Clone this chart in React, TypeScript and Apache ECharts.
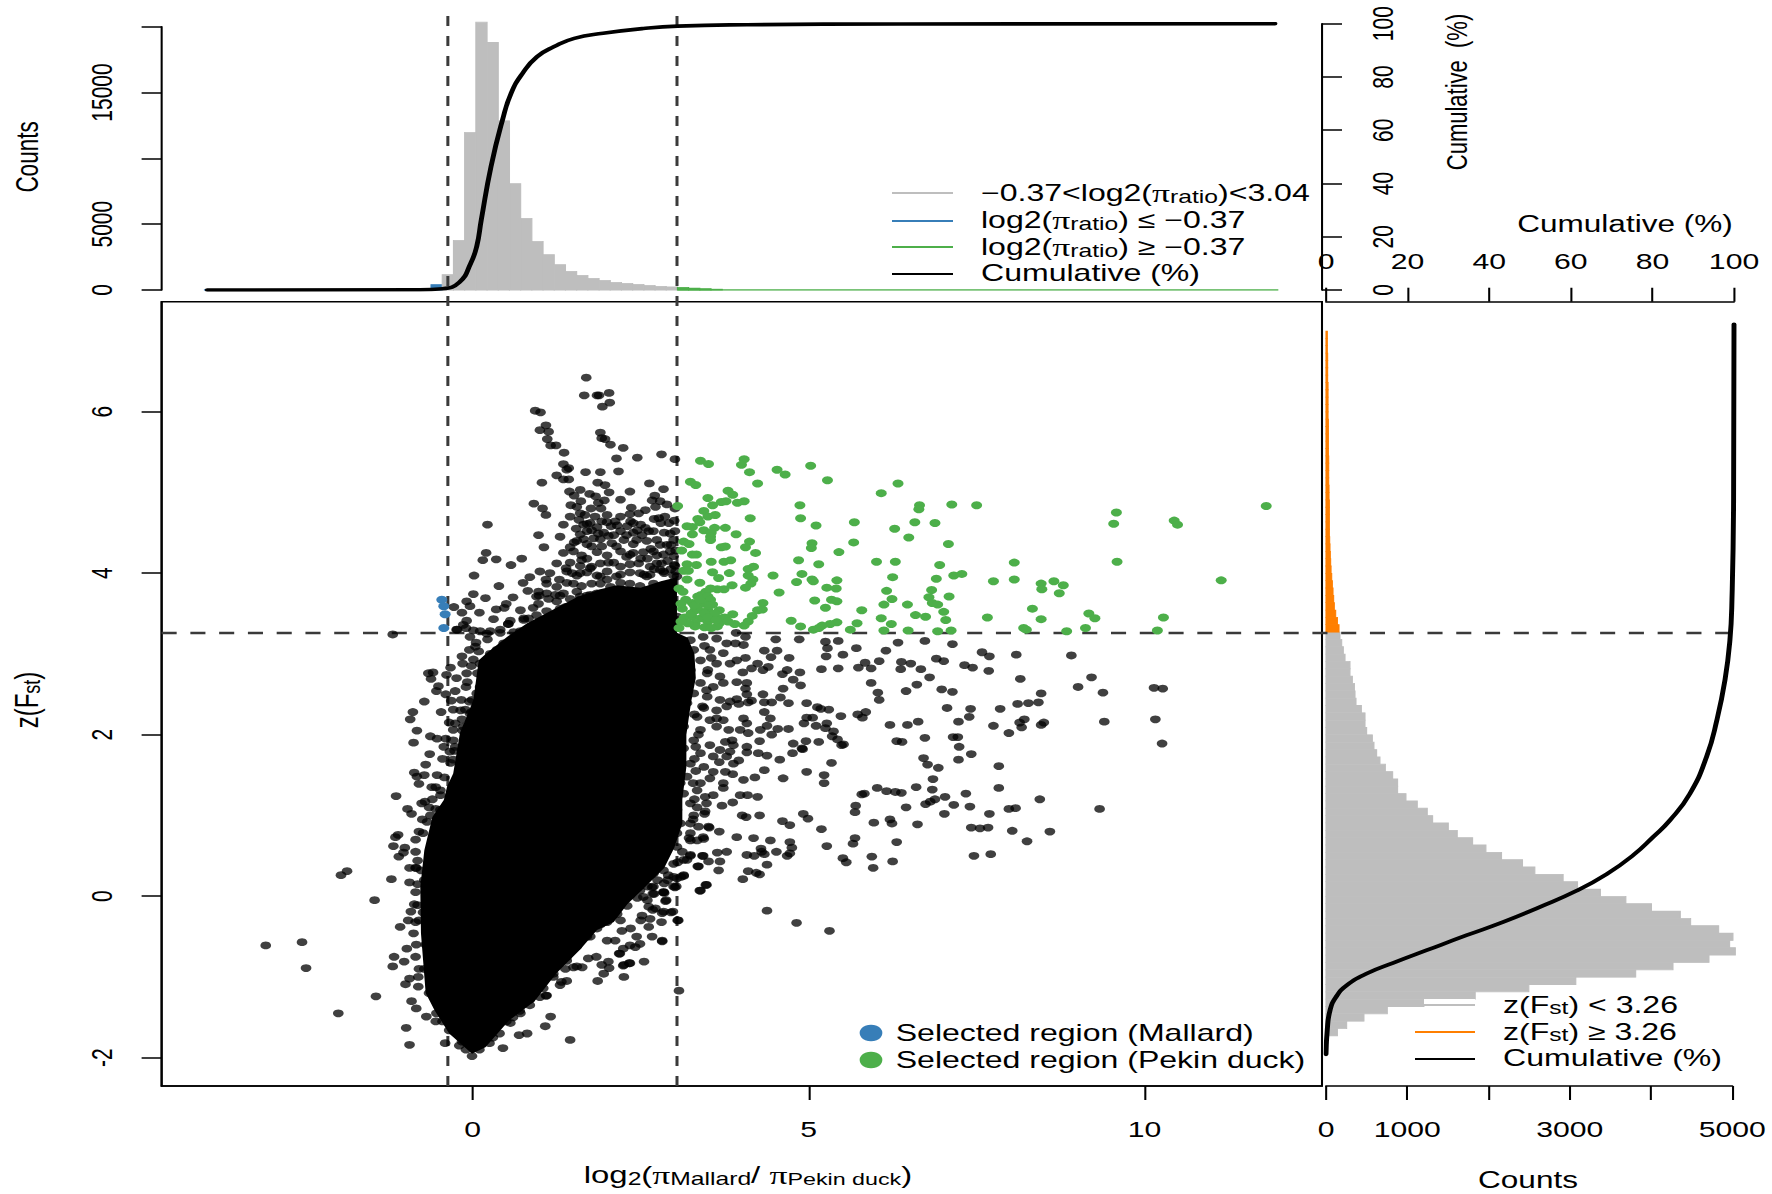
import React, { useEffect, useRef } from "react";
import * as echarts from "echarts";

// The reference is a horizontally stretched figure: the whole chart is laid out in a narrower box and stretched.
const S = 1.37;
const X = (v: number) => v / S;
const FONT = '"Liberation Sans", Arimo, sans-serif';
const SERIF = '"Liberation Serif", serif';

// ---------- axis ticks ----------
const mainXTicks = [0, 5, 10];
const mainYTicks = [-2, 0, 2, 4, 6];
const topCountTicks = [0, 5000, 10000, 15000, 20000];
const topCountLabels = [0, 5000, 15000];
const cumulativeTicks = [0, 20, 40, 60, 80, 100];
const rightCountTicks = [0, 1000, 2000, 3000, 4000, 5000];
const rightCountLabels = [0, 1000, 3000, 5000];

// ---------- thresholds ----------
const piLow = -0.37;
const piHigh = 3.04;
const zCut = 3.26;

// ---------- top histogram (log2 ratio), bin width 1/6 ----------
const topBinWidth = 0.1667;
const topBlueStart = -0.787;
const topBlueCounts = [100, 400];
const topGrayStart = -0.453;
const topGrayCounts = [1164, 3770, 11970, 20340, 18800, 12850, 8070, 5440, 3690, 2680, 1920, 1420, 1110, 885, 730, 580, 505, 430, 350, 280, 230];
const topGreenStart = 3.047;
const topGreenCounts = [200, 150, 100, 60];
const topBlueBase = [[-4, 0], [-0.8, 0]];
const topGreenBase = [[3.05, 0], [11.99, 0]];

// ---------- right histogram (z(Fst)), bin height 1/11 ----------
const rightBinHeight = 0.0909;
const rightStartZ = 3.27;
const rightGrayCounts = [172, 193, 213, 234, 295, 295, 324, 349, 357, 369, 435, 480, 480, 500, 570, 590, 623, 664, 730, 820, 881, 881, 984, 1123, 1246, 1312, 1505, 1615, 1804, 1968, 2160, 2418, 2570, 2918, 3095, 3377, 3690, 4005, 4360, 4487, 4832, 5008, 4967, 5037, 4713, 4270, 3811, 3074, 2496, 1836, 1205, 754, 467, 254, 140, 30];
const rightOrangeCounts = [160, 140, 119, 102, 94, 86, 78, 70, 62, 57, 53, 49, 45, 41, 41, 41, 41, 41, 37, 37, 33, 33, 33, 33, 29, 29, 29, 29, 29, 25, 25, 25, 25, 25, 20, 20, 20, 20, 16, 16, 16];

// ---------- cumulative curves ----------
const topCumulative = [[-3.95, 0], [-0.8, 0.1], [-0.45, 0.5], [-0.2, 2.9], [-0.03, 10], [0.06, 16.4], [0.128, 26.4], [0.273, 46.4], [0.444, 63.9], [0.572, 73.9], [0.743, 81.4], [0.957, 87.6], [1.213, 91.4], [1.512, 94.5], [1.94, 96.4], [2.54, 98.2], [3.05, 99.1], [4.08, 99.6], [6.37, 99.9], [11.94, 100]];
const rightCumulative = [[0, -1.958], [0.3, -1.66], [1, -1.41], [2.45, -1.248], [5.1, -1.103], [10, -0.958], [16.5, -0.826], [24.7, -0.669], [34.5, -0.483], [43.5, -0.318], [52.5, -0.132], [61.4, 0.066], [68.8, 0.273], [75.3, 0.508], [80.2, 0.735], [84.3, 0.94], [89.2, 1.27], [93.3, 1.73], [95.8, 2.18], [97.8, 2.68], [99, 3.17], [99.5, 3.67], [99.9, 4.91], [100, 7.08]];

// ---------- scatter: outline of the solid black mass ----------
const massOutline = [[-0.01,-1.95],[-0.35,-1.7],[-0.57,-1.41],[-0.7,-1.2],[-0.77,-0.46],[-0.78,0.11],[-0.72,0.57],[-0.6,0.98],[-0.43,1.19],[-0.38,1.36],[-0.29,1.52],[-0.19,2.02],[0.01,2.43],[0.09,2.92],[0.21,3.01],[0.51,3.21],[0.81,3.38],[1.2,3.55],[1.55,3.7],[1.9,3.8],[2.14,3.85],[2.5,3.82],[2.8,3.9],[3.04,3.95],[3.04,3.26],[3.2,3.2],[3.3,3],[3.32,2.7],[3.25,2.4],[3.18,2],[3.18,1.6],[3.12,1.2],[3.12,0.9],[3,0.6],[2.85,0.35],[2.55,0.1],[2.3,-0.1],[2.1,-0.32],[1.85,-0.42],[1.6,-0.66],[1.25,-0.95],[0.92,-1.3],[0.54,-1.54],[0.19,-1.87]];

// ---------- scatter: individually read points ----------
const selectedMallard = [[-0.46, 3.67], [-0.43, 3.59], [-0.41, 3.49], [-0.43, 3.32]];
const selectedPekin = [[3.39,5.39],[3.51,5.35],[4.04,5.41],[4,5.34],[4.12,5.25],[4.53,5.28],[4.65,5.22],[5.03,5.33],[5.28,5.15],[4.24,5.11],[3.24,5.13],[3.32,5.09],[6.33,5.11],[6.08,4.99],[3.8,5.02],[3.87,4.97],[3.5,4.93],[3.77,4.89],[3.7,4.88],[3.57,4.84],[4.04,4.89],[3.94,4.87],[3.05,4.83],[4.87,4.84],[6.65,4.84],[6.64,4.79],[7.13,4.85],[7.5,4.84],[9.58,4.75],[11.81,4.83],[9.54,4.61],[10.44,4.65],[10.49,4.6],[3.44,4.77],[3.5,4.7],[3.61,4.72],[3.35,4.67],[3.38,4.63],[4.13,4.68],[4.88,4.68],[5.11,4.59],[5.68,4.63],[6.58,4.63],[6.88,4.62],[3.19,4.58],[3.27,4.57],[3.44,4.53],[3.6,4.56],[3.76,4.56],[3.55,4.5],[3.27,4.48],[3.92,4.48],[6.28,4.55],[6.49,4.44],[3.54,4.45],[3.54,4.41],[4.12,4.39],[3.14,4.39],[3.22,4.36],[5.05,4.37],[5.04,4.31],[5.67,4.38],[7.08,4.36],[3.7,4.32],[3.76,4.33],[4.06,4.32],[3.11,4.28],[3.27,4.23],[3.33,4.23],[4.21,4.25],[5.45,4.26],[4.85,4.16],[3.55,4.14],[3.74,4.14],[3.84,4.16],[6.01,4.14],[6.29,4.14],[8.06,4.13],[9.59,4.14],[5.15,4.11],[6.95,4.1],[3.19,4.11],[3.14,4.03],[3.21,4.03],[3.33,4.1],[4.1,4.05],[4.18,4.08],[3.57,4.01],[3.82,4],[3.66,3.94],[4.1,3.97],[4.47,3.97],[4.9,3.99],[6.25,3.95],[7.16,3.97],[7.28,3.99],[4.17,3.92],[4.14,3.87],[3.19,3.92],[5.05,3.92],[5.07,3.9],[4.82,3.89],[5.42,3.91],[6.9,3.93],[7.75,3.9],[8.06,3.92],[8.46,3.87],[8.65,3.9],[8.79,3.85],[11.14,3.91],[3.38,3.88],[3.86,3.85],[4.06,3.82],[5.27,3.82],[5.41,3.81],[6.83,3.79],[8.47,3.8],[8.73,3.75],[3.74,3.8],[3.64,3.8],[3.54,3.81],[3.07,3.81],[3.13,3.77],[4.56,3.76],[6.16,3.78],[6.79,3.7],[7.09,3.71],[3.47,3.77],[3.4,3.73],[3.35,3.71],[3.5,3.71],[3.17,3.67],[3.54,3.67],[5.09,3.66],[5.34,3.67],[5.42,3.65],[6.24,3.68],[6.84,3.63],[6.92,3.61],[6.12,3.61],[6.47,3.61],[4.32,3.63],[3.27,3.63],[3.44,3.62],[3.57,3.61],[5.25,3.57],[8.33,3.56],[3.12,3.56],[3.31,3.54],[3.5,3.54],[3.67,3.54],[4.24,3.54],[4.31,3.55],[5.79,3.54],[7.01,3.52],[6.59,3.48],[9.17,3.5],[9.26,3.44],[10.28,3.45],[3.87,3.49],[4.16,3.47],[6.74,3.46],[7.66,3.45],[8.46,3.43],[6.08,3.44],[7.04,3.42],[3.27,3.46],[3.4,3.44],[3.57,3.46],[3.7,3.44],[4.1,3.4],[4.74,3.41],[5.42,3.39],[5.32,3.37],[5.72,3.38],[6.23,3.37],[5.2,3.35],[4.88,3.34],[3.31,3.38],[3.5,3.4],[3.67,3.38],[3.9,3.37],[4.04,3.35],[8.2,3.32],[9.12,3.32],[5.07,3.3],[5.15,3.32],[5.62,3.3],[6.12,3.29],[6.48,3.29],[6.92,3.28],[7.12,3.29],[8.84,3.28],[10.19,3.29],[3.07,3.32],[3.31,3.34],[3.64,3.34],[8.24,3.3],[3.15,3.45],[3.25,3.5],[3.35,3.55],[3.45,3.5],[3.6,3.5],[3.2,3.38],[3.5,3.45],[3.75,3.45],[3.1,3.4],[3.45,3.33],[3.55,3.32],[3.8,3.4],[3.3,3.6],[3.52,3.6],[3.38,3.67],[3.62,3.42],[3.1,3.62]];

const blackFar = [[5.25,3.15],[5.44,3.16],[5.28,3.07],[5.26,2.97],[5.51,2.99],[5.71,3.07],[6.33,3.14],[6.15,3.04],[6.73,3.16],[7.14,3.12],[7.58,3.02],[7.69,2.97],[8.09,2.99],[8.91,2.98],[5.19,2.81],[5.44,2.82],[5.74,2.83],[5.84,2.89],[5.93,2.82],[6.05,2.91],[6.38,2.9],[6.52,2.88],[6.37,2.81],[6.67,2.81],[6.9,2.94],[7.01,2.91],[7.32,2.86],[7.44,2.83],[7.68,2.79],[8.15,2.69],[9.21,2.71],[9.01,2.59],[9.38,2.52],[10.14,2.58],[10.27,2.57],[5.93,2.64],[6.8,2.71],[6.61,2.62],[6.45,2.54],[6.98,2.56],[7.14,2.53],[6.03,2.52],[6.05,2.43],[8.46,2.51],[8.11,2.38],[8.27,2.39],[8.42,2.4],[4.97,2.39],[5.13,2.34],[5.18,2.32],[5.3,2.31],[7.06,2.33],[7.41,2.32],[7.85,2.32],[5.48,2.23],[5.73,2.25],[5.85,2.28],[5.8,2.21],[7.39,2.22],[4.97,2.21],[5.06,2.21],[8.21,2.19],[8.14,2.15],[8.5,2.15],[8.46,2.12],[9.4,2.16],[10.16,2.19],[7.23,2.16],[6.63,2.16],[6.47,2.12],[6.21,2.12],[5.11,2.11],[4.93,2.14],[7.75,2.11],[8.17,2.09],[7.98,2.02],[5.27,2.14],[5.25,2.08],[5.37,2.04],[5.35,1.98],[5.43,1.94],[5.49,1.87],[5.52,1.88],[4.96,1.92],[5.15,1.91],[6.73,1.96],[6.31,1.92],[6.39,1.91],[7.15,1.97],[7.22,1.97],[10.26,1.89],[7.24,1.85],[4.91,1.82],[7.42,1.76],[6.71,1.71],[7.23,1.69],[5.34,1.65],[6.77,1.63],[6.93,1.59],[7.83,1.61],[4.97,1.54],[5.23,1.5],[5.23,1.4],[6.85,1.45],[6.02,1.34],[6.16,1.3],[6.29,1.29],[6.38,1.28],[6.6,1.35],[6.84,1.32],[7.83,1.34],[5.79,1.26],[5.83,1.27],[7.34,1.27],[7.03,1.23],[6.88,1.2],[6.81,1.17],[6.74,1.14],[7.16,1.13],[7.4,1.11],[8.44,1.2],[5.7,1.12],[5.69,1.04],[6.45,1.1],[7.98,1.08],[8.08,1.09],[9.33,1.08],[4.92,1.02],[4.99,0.96],[7.02,1.02],[7.69,1.02],[6.21,0.95],[6.24,0.9],[5.97,0.91],[6.62,0.89],[5.19,0.83],[7.42,0.85],[7.55,0.84],[7.67,0.85],[8.03,0.81],[8.59,0.8],[5.69,0.72],[5.66,0.65],[5.27,0.62],[6.31,0.67],[8.25,0.68],[5.51,0.47],[5.56,0.42],[5.94,0.49],[6.25,0.43],[5.96,0.35],[7.46,0.5],[7.71,0.52],[5.31,-0.43]];

const blackMid = [[3.92,3.26],[4.06,3.21],[4.51,3.18],[4.86,3.18],[3.91,3.13],[4.03,3.11],[4.34,3.04],[4.53,3.04],[4.44,2.96],[4.71,2.95],[4.06,2.95],[4.24,2.88],[4.15,2.82],[4.4,2.84],[4.32,2.8],[4.02,2.77],[4.68,2.8],[4.61,2.75],[4.77,2.68],[4.87,2.77],[3.93,2.65],[4.08,2.64],[4.06,2.57],[4.88,2.61],[4.62,2.57],[4.08,2.5],[4.32,2.5],[4.58,2.46],[3.93,2.44],[3.83,2.41],[4.15,2.42],[4.1,2.4],[4.34,2.4],[4.45,2.4],[4.7,2.39],[3.78,2.35],[3.96,2.38],[4.34,2.28],[4.43,2.2],[4.03,2.2],[4.08,2.14],[3.63,2.2],[3.73,2.18],[3.81,2.06],[3.98,2.06],[4.1,2.02],[4.28,2.06],[4.38,2.11],[4.54,2.07],[4.7,2.07],[4.45,2],[4.77,1.89],[4.27,1.92],[4.08,1.85],[3.86,1.93],[3.76,1.91],[3.88,1.87],[3.83,1.79],[4.08,1.78],[4.25,1.77],[4.38,1.74],[4.57,1.69],[4.76,1.77],[4.9,1.83],[3.96,1.68],[3.88,1.64],[3.67,1.66],[4.34,1.56],[4.62,1.46],[4.2,1.47],[4.03,1.44],[3.87,1.51],[3.76,1.54],[3.58,1.54],[3.53,1.46],[3.73,1.4],[3.73,1.34],[4.09,1.25],[4.24,1.23],[3.98,1.25],[3.58,1.25],[3.87,1.16],[3.71,1.12],[4.27,1],[4.01,1],[4.07,0.98],[4.61,0.93],[4.72,0.88],[3.67,0.8],[3.52,0.85],[3.44,0.71],[3.93,0.73],[4.18,0.72],[4.43,0.69],[4.29,0.59],[4.3,0.55],[4.72,0.67],[4.75,0.6],[4.72,0.53],[4.68,0.5],[4.52,0.55],[4.34,0.52],[4.19,0.5],[4.08,0.51],[3.78,0.55],[3.64,0.54],[3.43,0.5],[3.24,0.5],[3.68,0.43],[3.51,0.43],[3.36,0.37],[3.66,0.32],[4.38,0.39],[4.1,0.31],[4.22,0.29],[4.27,0.27],[4.02,0.21],[3.48,0.14],[3.38,0.07],[3.14,0.25],[3.04,0.22],[2.99,0.12],[2.69,0.12],[2.84,0.05]];

const blackRightFringe = [[3.24,3.17],[3.43,3.21],[3.63,3.19],[3.78,3.13],[3.29,3.05],[3.53,3.05],[3.73,3.01],[3.93,2.92],[3.19,2.97],[3.39,2.92],[3.63,2.88],[3.83,2.88],[3.24,2.8],[3.49,2.76],[3.68,2.72],[3.14,2.68],[3.39,2.64],[3.58,2.59],[3.73,2.64],[3.04,2.55],[3.29,2.51],[3.49,2.47],[3.68,2.43],[3.19,2.39],[3.44,2.33],[3.63,2.3],[3.09,2.26],[3.34,2.22],[3.53,2.18],[3.14,2.1],[3.39,2.06],[3.63,2.1],[3.04,1.97],[3.29,1.93],[3.53,1.87],[3.68,1.81],[3.14,1.83],[3.39,1.77],[3.58,1.73],[3.78,1.73],[3.24,1.64],[3.44,1.6],[3.04,1.56],[3.19,1.48],[3.39,1.4],[3.09,1.4],[3.34,1.31],[3.14,1.27],[3.46,1.23],[3.24,1.15],[3.46,1.05],[3.04,1.07],[3.29,1],[3.09,0.9],[3.36,0.86],[3.04,0.78],[3.24,0.69],[3.04,0.61],[3.14,0.45],[2.99,0.4],[2.84,0.32],[2.69,0.28],[2.49,0.2],[2.39,0.16],[2.49,0.07],[2.34,0.01],[2.91,0.26],[3.1,0.24],[2.61,0.3],[3.45,3.1],[3.55,2.95],[3.5,2.8],[3.48,2.55],[3.42,2.35],[3.3,2.25],[3.36,2],[3.32,1.85],[3.3,1.7],[3.32,1.55],[3.28,1.4],[3.3,1.2],[3.34,1.1],[3.28,0.95],[3.22,0.72],[3.12,0.55],[3.05,0.42],[2.9,0.2]];

const blackLowerRight = [[3.14,0.26],[3.01,0.11],[3.05,-0.3],[3.39,0.07],[3.47,0.14],[3.35,0.37],[3.42,0.5],[3.24,0.51],[2.88,-0.05],[2.84,-0.19],[2.98,-0.19],[2.82,-0.55],[2.55,-0.81],[2.33,-0.83],[2.25,-0.85],[2.25,-1],[1.86,-1.05],[1.95,-0.96],[2.03,-0.89],[2.02,-0.81],[1.92,-0.85],[1.63,-0.88],[1.5,-0.88],[1.38,-0.9],[1.4,-1.05],[1.3,-1.1],[1.1,-1.23],[1.72,-0.77],[1.84,-0.75],[2.12,-0.55],[2.18,-0.71],[2.24,-0.65],[2.34,-0.61],[2.49,-0.59],[2.67,-0.5],[2.22,-0.43],[2.44,-0.5],[2.62,-0.38],[2.81,-0.32],[2.64,-0.28],[2.52,-0.24],[2.72,-0.15],[2.62,-0.13],[2.7,0.03],[2.67,0.11],[2.85,0.04],[2.85,0.16],[2.54,-0.01],[2.59,0.31],[2.59,0.24],[2.99,0.24],[3.24,0.9],[3.43,0.73],[3.34,0.69],[3.24,0.78],[3.19,0.45],[3.48,1.15],[3.45,1.02],[3.51,0.86],[0.3,-1.75],[0.5,-1.55],[0.7,-1.42],[0.85,-1.28],[1.05,-1.14],[1.2,-0.96],[1.4,-0.75],[1.55,-0.62],[1.7,-0.5],[1.85,-0.4],[2,-0.32],[2.15,-0.22],[2.3,-0.12],[2.45,-0.02],[2.6,0.12],[2.75,0.2]];

const blackTop = [[1.69,6.42],[1.66,6.2],[1.85,6.2],[1.88,6.2],[2.03,6.23],[2.04,6.11],[1.93,6.06],[0.93,6.01],[1.01,5.99],[1.09,5.83],[1.13,5.75],[1,5.77],[1.11,5.66],[1.9,5.74],[1.92,5.67],[1.97,5.66],[2.05,5.59],[2.24,5.55],[1.16,5.58],[1.24,5.58],[1.36,5.49],[2.14,5.42],[2.45,5.43],[2.81,5.47],[3.01,5.41],[1.35,5.35],[1.43,5.3],[1.4,5.28],[1.68,5.25],[1.9,5.25],[2.17,5.26],[1.25,5.21],[1.35,5.16],[1.43,5.16],[1.03,5.12],[1.86,5.12],[1.97,5.09],[2.63,5.11],[1.44,5.01],[1.6,5.03],[1.51,4.96],[1.74,4.98],[1.83,4.95],[2.03,5],[2.34,5.01],[2.84,5.04],[0.91,4.86],[1.04,4.8],[1.09,4.72],[1.61,4.89],[1.46,4.84],[1.55,4.82],[1.76,4.8],[1.87,4.87],[1.96,4.9],[2.2,4.91],[2.71,4.96],[2.67,4.9],[2.79,4.89],[2.72,4.82],[2.89,4.85],[3.01,4.8],[2.36,4.81],[1.91,4.8],[2.57,4.78],[2.47,4.74],[2.34,4.73],[1.6,4.74],[1.67,4.72],[2.77,4.68],[2.86,4.7],[0.22,4.6],[1.75,4.62],[1.92,4.64],[2.12,4.64],[2.06,4.58],[2.39,4.62],[1.54,4.55],[1.7,4.52],[1.87,4.49],[1.95,4.5],[2.57,4.56],[2.62,4.52],[3.01,4.52],[0.98,4.47],[1.65,4.42],[1.8,4.43],[2.1,4.47],[2.29,4.47],[2.44,4.41],[2.74,4.41],[2.94,4.49],[1.51,4.38],[1.06,4.32],[1.45,4.32],[1.77,4.33],[1.92,4.33],[2.14,4.33],[2.89,4.35],[0.2,4.25],[0.15,4.16],[0.35,4.17],[0.57,4.1],[0.73,4.18],[1.7,4.18],[1.62,4.16],[2.02,4.13],[2.1,4.13],[2.5,4.18],[2.69,4.27],[2.39,4.25],[2.84,4.23],[2.99,4.21],[1.39,4.06],[1.77,4.08],[1.75,4.06],[2.34,4.11],[0.02,3.97],[1.48,4],[1.6,4],[1.9,3.96],[2.14,3.96],[2.49,4],[2.79,4.04],[1.09,3.92],[1.29,3.92],[1.5,3.87],[1.77,3.87],[2,3.92],[0.39,3.84],[0.82,3.78],[0.98,3.77],[1.1,3.75],[1.23,3.73],[1.35,3.75],[1.55,3.77],[1.9,3.75],[2.34,3.87],[2.59,3.79],[0.01,3.74],[0.19,3.69],[0.95,3.71],[1.25,3.65],[1.6,3.71],[2.05,3.69],[-0.09,3.65],[-0.28,3.58],[-0.16,3.51],[-0.04,3.59],[0.98,3.62],[0.47,3.57],[0.71,3.54],[0.1,3.51],[1.38,3.58],[1.75,3.61],[2.1,3.57],[-0.09,3.41],[-0.14,3.36],[-0.23,3.3],[0.53,3.37],[0.76,3.44],[0.95,3.48],[1.18,3.47],[1.4,3.46],[2.69,3.87],[2.89,3.79],[2.79,3.71],[2.99,3.63],[2.74,3.54],[2.89,3.46],[3.04,3.46],[2.2,3.79],[2.14,3.67],[2.39,3.62],[1.9,3.59],[2.59,3.96],[2.74,4.12],[2.29,4.2],[3.04,3.96],[2.96,3.87]];

const blackUpperDense = [[1.7,4.61],[1.85,4.57],[2,4.63],[2.15,4.59],[2.35,4.64],[2.5,4.6],[1.6,4.48],[1.77,4.53],[2.02,4.46],[2.2,4.52],[2.39,4.5],[2.52,4.47],[2.69,4.52],[1.55,4.4],[1.7,4.36],[1.9,4.42],[2.07,4.37],[2.25,4.41],[2.39,4.36],[2.59,4.4],[2.79,4.35],[2.99,4.41],[1.5,4.27],[1.62,4.22],[1.85,4.26],[2,4.22],[2.2,4.27],[2.34,4.23],[2.54,4.26],[2.74,4.22],[2.94,4.27],[1.45,4.13],[1.6,4.09],[1.9,4.12],[2.2,4.08],[2.47,4.12],[2.64,4.08],[2.81,4.12],[3.01,4.09],[1.4,4.02],[1.55,3.97],[1.7,4.01],[1.85,3.97],[2,4.02],[2.2,3.98],[2.34,4.01],[2.64,3.98],[2.84,4.02],[2.99,3.97],[1.1,3.87],[1.25,3.83],[1.4,3.88],[1.62,3.84],[1.9,3.87],[2.05,3.83],[2.2,3.88],[2.49,3.84],[0.99,3.72],[1.13,3.68],[1.3,3.72],[1.45,3.68],[1.7,3.72],[1.85,3.68],[0.9,3.57],[1.1,3.53],[1.3,3.56],[0.31,3.43],[0.56,3.41],[0.83,3.44],[0.01,3.29],[0.21,3.25],[0.41,3.3],[0.61,3.27],[0.8,3.29],[0.05,3.14],[0.22,3.18],[-0.05,3.05],[-0.02,2.85],[-0.08,2.65],[-0.18,2.3],[-0.35,2.15],[-0.4,1.95],[-0.45,1.7],[-0.55,1.35],[-0.6,1.2],[-0.65,1.1],[-0.75,0.95],[-0.8,0.8],[-0.85,0.35],[-0.82,0.15],[1.58,4.66],[1.65,4.6],[1.82,4.7],[2,4.72],[2.2,4.7],[2.3,4.58],[2.45,4.53],[2.8,4.62],[2.92,4.62],[2.7,4.67],[3,4.65],[1.45,4.7],[1.35,4.6],[1.3,4.45],[1.35,4.25],[1.25,4.12],[1.15,4],[1,4.02],[0.85,3.95],[0.75,3.88],[0.6,3.7],[0.5,3.62],[0.35,3.55],[2.85,4.5],[2.95,4.35],[2.65,4.3],[3.02,4.28],[2.9,4.15],[3,4.1],[2.6,4.18],[2.55,3.98],[2.7,4.05],[2.85,4],[2.95,4.05],[3.02,4.02]];

const blackLeftUpper = [[-1.19,3.24],[-0.04,3.21],[0.11,3.28],[0.26,3.28],[0.41,3.26],[-0.24,3.3],[-0.1,3.32],[0.53,3.37],[0.76,3.42],[0.04,3.09],[0.09,3.03],[-0.16,2.97],[0.01,2.93],[-0.15,2.88],[0.11,2.88],[-0.33,2.83],[-0.66,2.76],[-0.59,2.77],[-0.62,2.69],[-0.39,2.74],[-0.51,2.6],[-0.24,2.7],[-0.09,2.76],[0.07,2.76],[-0.1,2.59],[-0.26,2.54],[-0.54,2.54],[-0.4,2.5],[0.06,2.51],[-0.72,2.41],[-0.32,2.42],[-0.17,2.43],[-0.05,2.41],[-0.47,2.28],[-0.29,2.31],[-0.11,2.31],[-0.89,2.28],[-0.93,2.19],[-0.16,2.19],[-0.26,2.14],[-0.83,2.05],[-0.63,1.98],[-0.53,1.95],[-0.29,2.06],[-0.88,1.9],[-0.43,1.85],[-0.29,1.93],[-0.34,1.79],[-0.64,1.76],[-0.29,1.69],[-0.7,1.63],[-0.87,1.53],[-0.83,1.48],[-0.72,1.5],[-0.53,1.5],[-0.8,1.39],[-0.61,1.35],[-0.48,1.31],[-1.14,1.24],[-0.71,1.17],[-0.76,1.15],[-0.97,1.08],[-0.91,1.02],[-0.63,1],[-0.48,1.07],[-0.26,1.85],[-0.14,2.1],[-0.04,2.26],[-0.01,2.43],[0.11,2.59],[0.14,2.72],[0.21,2.88],[0.26,3],[0.36,3.05],[0.46,3.13],[0.61,3.17],[0.71,3.28],[0.95,3.36],[1.1,3.44],[1.3,3.5],[1.5,3.59],[1.6,3.67],[1.75,3.73],[1.85,3.75]];

const blackLowerEdge = [[-1.87,0.31],[-1.96,0.26],[-1.21,0.21],[-1.46,-0.05],[-3.08,-0.61],[-2.54,-0.57],[-2.48,-0.89],[-1.44,-1.24],[-2,-1.45],[-0.99,-1.63],[-0.94,-1.84],[-0.41,-1.82],[0.45,-1.88],[-0.01,-1.98],[0.69,-1.72],[0.81,-1.7],[1.08,-1.61],[1.16,-1.49],[1.45,-1.78],[3.07,-1.17],[3.06,-0.3],[2.82,-0.56],[-1.11,0.76],[-1.15,0.73],[-1.18,0.62],[-1.01,0.6],[-1.03,0.54],[-1.1,0.49],[-0.85,0.7],[-0.85,0.55],[-0.94,0.35],[-0.82,0.44],[-0.77,0.32],[-0.94,0.17],[-0.85,0.05],[-0.82,-0.11],[-0.92,-0.19],[-0.96,-0.3],[-0.85,-0.32],[-1.08,-0.38],[-0.88,-0.46],[-0.98,-0.65],[-1.17,-0.75],[-1.19,-0.87],[-1.02,-0.81],[-0.85,-0.75],[-0.81,-1],[-0.94,-1.02],[-1,-1.09],[-0.81,-1.12],[-0.91,-1.3],[-0.84,-1.39],[-0.69,-1.49],[-0.54,-1.45],[-0.35,-1.66],[-0.16,-1.8],[0.56,-1.57],[0.71,-1.45],[1.09,-1.23],[1.32,-1.06],[1.55,-0.87],[2.24,-0.86],[2.34,-0.83],[2.19,-0.71],[2.42,-0.63],[2.82,-0.21],[2.95,-0.2],[2.68,-0.17],[3.03,0.12],[2.87,-0.06],[2.68,0.03],[2.84,0.05],[4.38,-0.18],[4.82,-0.33],[-0.72,0.2],[-0.74,-0.2],[-0.7,-0.6],[-0.72,-0.9],[-0.65,-1.2],[-0.55,-1.55],[-0.45,-1.55],[-0.2,-1.85],[-0.1,-1.9],[0.1,-1.9],[0.25,-1.82],[0.4,-1.7],[0.6,-1.5],[0.85,-1.35],[1,-1.25],[1.2,-1],[1.4,-0.8],[1.55,-0.6],[1.75,-0.5],[1.9,-0.35],[2.05,-0.2],[2.2,-0.3],[2.35,-0.4],[2.5,-0.3],[2.25,0],[2.45,0.1],[2.6,-0.05],[2,-0.55],[-0.8,-0.9],[-0.84,-0.6],[-0.87,-0.1],[-0.8,-0.3],[-0.84,0.35],[-0.74,0.78],[-0.68,0.92],[-0.55,1.08],[-0.48,1.25],[-0.42,1.47],[-0.33,1.65],[-0.27,1.8],[-0.15,2.05],[-0.02,2.28]];

// ---------- colours ----------
const GRAY = "#BEBEBE";
const BLUE = "#377EB8";
const GREEN = "#4DAF4A";
const ORANGE = "#FF7F00";
const DASH = "#3a3a3a";

const num = (v: number) => String(v);
const hiddenAxis = (gridIndex: number, min: number, max: number) => ({ type: "value", gridIndex, min, max, show: false, splitLine: { show: false } });
const lineAxis = { show: true, onZero: false, lineStyle: { color: "#000", width: 1.5 } };
const tickStyle = { color: "#000", width: 1.5 };

function rectX(params: any, api: any) {
  const a = api.coord([api.value(0), api.value(2)]);
  const b = api.coord([api.value(1), 0]);
  return { type: "rect", shape: { x: a[0], y: a[1], width: b[0] - a[0], height: b[1] - a[1] }, style: { fill: api.visual("color"), stroke: api.visual("color"), lineWidth: 0.8 } };
}
function rectY(params: any, api: any) {
  const a = api.coord([0, api.value(0)]);
  const b = api.coord([api.value(2), api.value(1)]);
  return { type: "rect", shape: { x: a[0], y: a[1], width: b[0] - a[0], height: b[1] - a[1] }, style: { fill: api.visual("color"), stroke: api.visual("color"), lineWidth: 0.8 } };
}
const binsX = (start: number, counts: number[]) => counts.map((c, i) => [start + i * topBinWidth, start + (i + 1) * topBinWidth, c]);
const binsDown = (start: number, counts: number[]) => counts.map((c, i) => [start - i * rightBinHeight, start - (i + 1) * rightBinHeight, c]);
const binsUp = (start: number, counts: number[]) => counts.map((c, i) => [start + (i + 1) * rightBinHeight, start + i * rightBinHeight, c]);

const richBase = {
  pi: { fontFamily: SERIF, fontSize: 26, verticalAlign: "middle" },
  sub: { fontFamily: FONT, fontSize: 18, verticalAlign: "bottom", fill: "#000" },
  subs: { fontFamily: FONT, fontSize: 17, verticalAlign: "bottom", fill: "#000" },
};
function label(text: string, x: number, y: number, opts: any = {}) {
  return {
    type: "text",
    x: X(x),
    y,
    rotation: opts.rotation || 0,
    z: 20,
    style: { text, fill: "#000", font: `${opts.size || 23.4}px ${FONT}`, fontFamily: FONT, fontSize: opts.size || 23.4, align: opts.align || "left", verticalAlign: "middle", rich: richBase },
  };
}
function legendLine(x1: number, x2: number, y: number, color: string) {
  return { type: "line", z: 20, shape: { x1: X(x1), y1: y, x2: X(x2), y2: y }, style: { stroke: color, lineWidth: 2.2 } };
}

export default function App() {
  const ref = useRef<HTMLDivElement>(null);
  useEffect(() => {
    document.body.style.margin = "0";
    const W = 1772 / S;
    const chart = echarts.init(ref.current!, undefined, { renderer: "svg", width: W, height: 1194 });
    const mainL = X(161.6);
    const mainW = X(1322 - 161.6);
    const xMin = -4.63, xMax = 12.64, yMin = -2.35, yMax = 7.36;
    const rLeft = X(1326);
    chart.setOption({
      animation: false,
      backgroundColor: "#fff",
      textStyle: { fontFamily: FONT },
      grid: [
        { left: mainL, width: mainW, top: 301.7, height: 784.3, show: true, borderColor: "#000", borderWidth: 1.5, backgroundColor: "transparent" },
        { left: mainL, width: mainW, top: 26.7, height: 263.3 },
        { left: mainL, width: mainW, top: 23.7, height: 266.3 },
        { left: rLeft, width: X(406.3), top: 301.7, height: 784.3 },
        { left: rLeft, width: X(408), top: 301.7, height: 784.3 },
        { left: mainL, width: X(1734 - 161.6), top: 13, height: 1073 },
      ],
      xAxis: [
        {
          type: "value", gridIndex: 0, min: xMin, max: xMax, splitLine: { show: false }, axisLine: lineAxis,
          axisTick: { show: true, length: 14, lineStyle: tickStyle, customValues: mainXTicks },
          axisLabel: { customValues: mainXTicks, formatter: num, fontSize: 22, color: "#000", margin: 32, fontFamily: FONT },
        },
        hiddenAxis(1, xMin, xMax),
        hiddenAxis(2, xMin, xMax),
        {
          type: "value", gridIndex: 3, min: 0, max: 5000, splitLine: { show: false }, axisLine: lineAxis,
          axisTick: { show: true, length: 14, lineStyle: tickStyle, customValues: rightCountTicks },
          axisLabel: { customValues: rightCountLabels, formatter: num, fontSize: 22, color: "#000", margin: 32, fontFamily: FONT },
        },
        {
          type: "value", gridIndex: 4, position: "top", min: 0, max: 100, splitLine: { show: false }, axisLine: lineAxis,
          axisTick: { show: true, length: 14, lineStyle: tickStyle, customValues: cumulativeTicks },
          axisLabel: { customValues: cumulativeTicks, formatter: num, fontSize: 22, color: "#000", margin: 29, fontFamily: FONT },
        },
        hiddenAxis(5, xMin, 18.77),
      ],
      yAxis: [
        {
          type: "value", gridIndex: 0, min: yMin, max: yMax, splitLine: { show: false }, axisLine: lineAxis,
          axisTick: { show: true, length: X(20), lineStyle: tickStyle, customValues: mainYTicks },
          axisLabel: { customValues: mainYTicks, formatter: num, rotate: 90, fontSize: 21, color: "#000", margin: X(46), fontFamily: FONT },
        },
        {
          type: "value", gridIndex: 1, min: 0, max: 20000, splitLine: { show: false }, axisLine: lineAxis,
          axisTick: { show: true, length: X(20), lineStyle: tickStyle, customValues: topCountTicks },
          axisLabel: { customValues: topCountLabels, formatter: num, rotate: 90, fontSize: 21, color: "#000", margin: X(46), fontFamily: FONT },
        },
        {
          type: "value", gridIndex: 2, position: "right", min: 0, max: 100, splitLine: { show: false }, axisLine: lineAxis,
          axisTick: { show: true, length: X(20), lineStyle: tickStyle, customValues: cumulativeTicks },
          axisLabel: { customValues: cumulativeTicks, formatter: num, rotate: 90, fontSize: 21, color: "#000", margin: X(46), fontFamily: FONT },
        },
        hiddenAxis(3, yMin, yMax),
        hiddenAxis(4, yMin, yMax),
        hiddenAxis(5, yMin, 10.94),
      ],
      series: [
        { type: "custom", name: "blueHist", xAxisIndex: 1, yAxisIndex: 1, z: 3, renderItem: rectX, itemStyle: { color: BLUE }, encode: { x: [0, 1], y: 2 }, data: binsX(topBlueStart, topBlueCounts) },
        { type: "custom", name: "grayHist", xAxisIndex: 1, yAxisIndex: 1, z: 3, renderItem: rectX, itemStyle: { color: GRAY }, encode: { x: [0, 1], y: 2 }, data: binsX(topGrayStart, topGrayCounts) },
        { type: "custom", name: "greenHist", xAxisIndex: 1, yAxisIndex: 1, z: 3, renderItem: rectX, itemStyle: { color: GREEN }, encode: { x: [0, 1], y: 2 }, data: binsX(topGreenStart, topGreenCounts) },
        { type: "line", name: "blueBase", xAxisIndex: 1, yAxisIndex: 1, z: 3, symbol: "none", lineStyle: { color: BLUE, width: 1.6 }, data: topBlueBase },
        { type: "line", name: "greenBase", xAxisIndex: 1, yAxisIndex: 1, z: 3, symbol: "none", lineStyle: { color: GREEN, width: 1.6 }, data: topGreenBase },
        { type: "custom", name: "rightGray", xAxisIndex: 3, yAxisIndex: 3, z: 3, renderItem: rectY, itemStyle: { color: GRAY }, encode: { x: 2, y: [0, 1] }, data: binsDown(rightStartZ, rightGrayCounts) },
        { type: "custom", name: "rightOrange", xAxisIndex: 3, yAxisIndex: 3, z: 3, renderItem: rectY, itemStyle: { color: ORANGE }, encode: { x: 2, y: [0, 1] }, data: binsUp(rightStartZ, rightOrangeCounts) },
        { type: "line", name: "dashLow", xAxisIndex: 5, yAxisIndex: 5, z: 4, symbol: "none", lineStyle: { color: DASH, width: 2.2, type: [10, 10] }, data: [[piLow, yMin], [piLow, 10.94]] },
        { type: "line", name: "dashHigh", xAxisIndex: 5, yAxisIndex: 5, z: 4, symbol: "none", lineStyle: { color: DASH, width: 2.2, type: [10, 10] }, data: [[piHigh, yMin], [piHigh, 10.94]] },
        { type: "line", name: "dashZ", xAxisIndex: 5, yAxisIndex: 5, z: 4, symbol: "none", lineStyle: { color: DASH, width: 2.6, type: [11, 10] }, data: [[xMin, zCut], [18.77, zCut]] },
        {
          type: "custom", name: "mass", xAxisIndex: 0, yAxisIndex: 0, z: 5, data: [[0]],
          encode: { x: 0 },
          renderItem: (p: any, api: any) => ({ type: "polygon", shape: { points: massOutline.map((m) => api.coord(m)) }, style: { fill: "#000" } }),
        },
        {
          type: "scatter", name: "black", xAxisIndex: 0, yAxisIndex: 0, z: 6, symbol: "circle", symbolSize: 7.8, itemStyle: { color: "#000", opacity: 0.75 },
          data: [...blackFar, ...blackMid, ...blackRightFringe, ...blackLowerRight, ...blackTop, ...blackUpperDense, ...blackLeftUpper, ...blackLowerEdge],
        },
        { type: "scatter", name: "Selected region (Pekin duck)", xAxisIndex: 0, yAxisIndex: 0, z: 7, symbol: "circle", symbolSize: 8, itemStyle: { color: GREEN, opacity: 1 }, data: selectedPekin },
        { type: "scatter", name: "Selected region (Mallard)", xAxisIndex: 0, yAxisIndex: 0, z: 7, symbol: "circle", symbolSize: 8, itemStyle: { color: BLUE, opacity: 1 }, data: selectedMallard },
        { type: "line", name: "topCumulative", xAxisIndex: 2, yAxisIndex: 2, z: 8, symbol: "none", smooth: 0.5, lineStyle: { color: "#000", width: 3.6, cap: "round" }, data: topCumulative },
        { type: "line", name: "rightCumulative", xAxisIndex: 4, yAxisIndex: 4, z: 8, symbol: "none", smooth: 0.5, lineStyle: { color: "#000", width: 3.6, cap: "round" }, data: rightCumulative },
      ],
      graphic: [
        // axis titles
        label("Counts", 28, 157, { rotation: Math.PI / 2, align: "center", size: 22.5 }),
        label("z(F{sub|st})", 27, 700, { rotation: Math.PI / 2, align: "center", size: 24 }),
        label("Cumulative  (%)", 1457, 92, { rotation: Math.PI / 2, align: "center", size: 22 }),
        label("log{sub|2}({pi|π}{sub|Mallard}/ {pi|π}{subs|Pekin duck})", 748, 1175, { align: "center", size: 24 }),
        label("Counts", 1528, 1180, { align: "center", size: 23 }),
        label("Cumulative (%)", 1625, 224, { align: "center", size: 23 }),
        // top legend
        legendLine(892, 953, 193, GRAY),
        legendLine(892, 953, 221, BLUE),
        legendLine(892, 953, 247, GREEN),
        legendLine(892, 953, 274, "#000"),
        label("−0.37<log2({pi|π}{sub|ratio})<3.04", 981, 193),
        label("log2({pi|π}{sub|ratio}) ≤ −0.37", 981, 220),
        label("log2({pi|π}{sub|ratio}) ≥ −0.37", 981, 247),
        label("Cumulative (%)", 981, 273),
        // scatter legend
        { type: "circle", z: 20, shape: { cx: X(871), cy: 1033, r: 8.3 }, style: { fill: BLUE } },
        { type: "circle", z: 20, shape: { cx: X(871), cy: 1060, r: 8.3 }, style: { fill: GREEN } },
        label("Selected region (Mallard)", 895.7, 1033),
        label("Selected region (Pekin duck)", 895.7, 1060),
        // right legend
        { type: "rect", z: 19, shape: { x: X(1424), y: 999, width: X(51), height: 5 }, style: { fill: "#fff" } },
        legendLine(1415, 1475, 1005, GRAY),
        legendLine(1415, 1475, 1032, ORANGE),
        legendLine(1415, 1475, 1059, "#000"),
        label("z(F{sub|st}) < 3.26", 1503, 1005),
        label("z(F{sub|st}) ≥ 3.26", 1503, 1032),
        label("Cumulative (%)", 1503, 1058),
      ],
    });
    return () => chart.dispose();
  }, []);
  return (
    <div style={{ position: "absolute", left: 0, top: 0, width: 1772, height: 1194, overflow: "hidden", background: "#fff" }}>
      <div ref={ref} style={{ width: 1772 / S, height: 1194, transform: `scaleX(${S})`, transformOrigin: "0 0" }} />
    </div>
  );
}
